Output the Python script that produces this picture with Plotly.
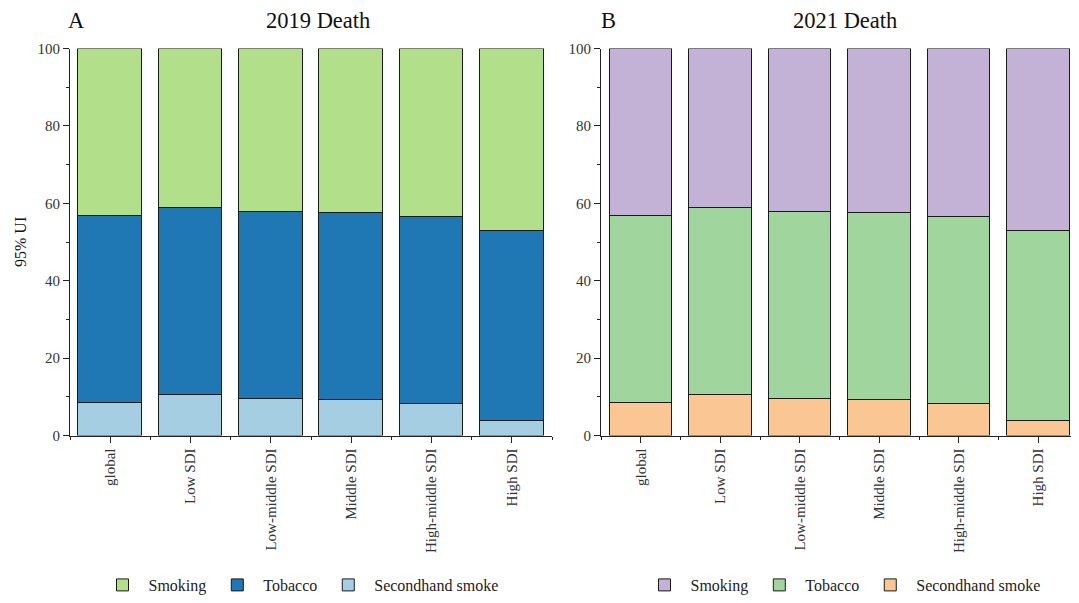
import plotly.graph_objects as go

categories = ["global", "Low SDI", "Low-middle SDI", "Middle SDI", "High-middle SDI", "High SDI"]
secondhand_2019 = [8.5, 10.5, 9.6, 9.3, 8.3, 3.9]
tobacco_2019 = [48.4, 48.5, 48.3, 48.4, 48.3, 49.0]
smoking_2019 = [43.1, 41.0, 42.1, 42.3, 43.4, 47.1]
secondhand_2021 = [8.5, 10.5, 9.6, 9.3, 8.3, 3.9]
tobacco_2021 = [48.4, 48.5, 48.3, 48.4, 48.3, 49.0]
smoking_2021 = [43.1, 41.0, 42.1, 42.3, 43.4, 47.1]
y_ticks = [0, 20, 40, 60, 80, 100]

FONT = "Liberation Serif, Times New Roman, serif"
OFF = 8  # default page body margin
W, H = 1079 - OFF, 603 - 2 * OFF
xpos = list(range(len(categories)))


def fx(px):
    return (px - OFF) / W


def fy(py):
    return (H - (py - OFF)) / H


fig = go.Figure()


def add_panel(xa, ya, legend, sh, tb, sm, colors):
    for name, vals, col in [("Secondhand smoke", sh, colors[2]),
                            ("Tobacco", tb, colors[1]),
                            ("Smoking", sm, colors[0])]:
        fig.add_trace(go.Bar(
            x=xpos, y=vals, name=name, xaxis=xa, yaxis=ya, legend=legend,
            width=0.79, marker=dict(color=col, line=dict(color="#1a1a1a", width=1)),
            hovertemplate="%{y}<extra>" + name + "</extra>",
        ))


add_panel("x", "y", "legend", secondhand_2019, tobacco_2019, smoking_2019,
          ["#b2df8a", "#1f78b4", "#a6cee3"])
add_panel("x2", "y2", "legend2", secondhand_2021, tobacco_2021, smoking_2021,
          ["#c3b1d6", "#a0d69e", "#f9c694"])

ydom = [fy(435.5), fy(48.5)]
axis_common = dict(
    showline=True, linecolor="#222", linewidth=1, ticks="outside", ticklen=6,
    tickcolor="#222", tickfont=dict(family=FONT, size=15, color="#333"),
    showgrid=False, zeroline=False, automargin=False,
)
xaxis_common = dict(
    axis_common, tickvals=xpos, ticktext=categories, tickangle=-90,
    minor=dict(tick0=0.5, dtick=1, ticks="outside", ticklen=3, tickcolor="#222", showgrid=False),
)
yaxis_common = dict(
    axis_common, range=[0, 100], tickvals=y_ticks,
    minor=dict(tick0=0, dtick=10, ticks="outside", ticklen=3, tickcolor="#222", showgrid=False),
)

leg_common = dict(orientation="h", xanchor="center", yanchor="middle", traceorder="reversed",
                  itemwidth=42, font=dict(family=FONT, size=16, color="#222"),
                  bgcolor="rgba(0,0,0,0)")

fig.update_layout(
    width=W, height=H, margin=dict(l=0, r=0, t=0, b=0, pad=0, autoexpand=False),
    paper_bgcolor="white", plot_bgcolor="white", barmode="stack", bargap=0,
    font=dict(family=FONT, color="#222"),
    xaxis=dict(xaxis_common, range=[-0.5, 5.5], domain=[fx(70), fx(552)], anchor="y"),
    yaxis=dict(yaxis_common, domain=ydom, anchor="x"),
    xaxis2=dict(xaxis_common, range=[-0.503, 5.409], domain=[fx(601), fx(1071)], anchor="y2"),
    yaxis2=dict(yaxis_common, domain=ydom, anchor="x2"),
    legend=dict(leg_common, x=fx(300), y=fy(585)),
    legend2=dict(leg_common, x=fx(842), y=fy(585)),
    showlegend=True,
)


def ann(text, x, y, size, angle=0):
    fig.add_annotation(text=text, x=fx(x), y=fy(y), xref="paper", yref="paper",
                       showarrow=False, xanchor="center", yanchor="middle", textangle=angle,
                       borderpad=0, font=dict(family=FONT, size=size, color="#111"))


ann("A", 77, 20.5, 22.5)
ann("2019 Death", 318, 20.5, 22.5)
ann("B", 608, 20.5, 22.5)
ann("2021 Death", 845, 20.5, 22.5)
ann("95% UI", 20, 242, 16, angle=-90)

fig.write_html("out.html")
